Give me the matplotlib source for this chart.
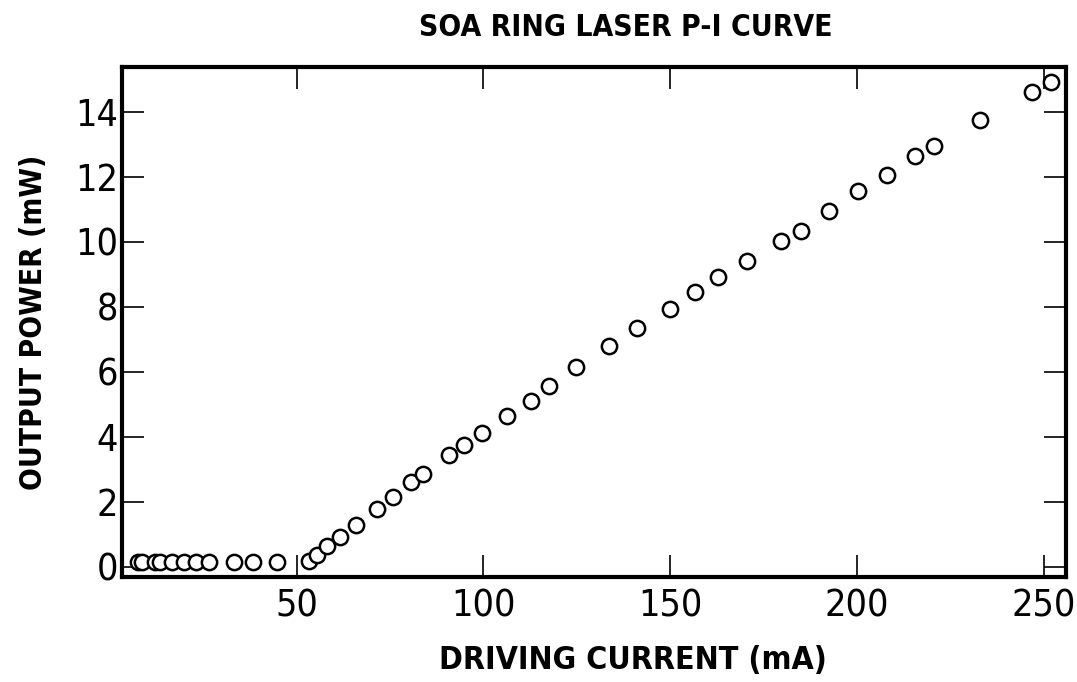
import matplotlib
matplotlib.use("Agg")
import matplotlib.pyplot as plt
from matplotlib import font_manager

# Driving current (mA) and measured output power (mW)
current_ma = [7.5, 8.5, 12.0, 13.5, 16.5, 19.8, 23.0, 26.5, 33.2, 38.2, 44.6,
              53.3, 55.3, 58.0, 61.6, 65.9, 71.4, 75.7, 80.5, 83.9, 90.8,
              94.9, 99.7, 106.4, 112.6, 117.6, 124.8, 133.7, 141.1, 149.9,
              156.6, 162.9, 170.5, 179.7, 185.0, 192.5, 200.3, 208.0, 215.5,
              220.7, 232.9, 246.9, 251.9]
power_mw = [0.15, 0.15, 0.15, 0.15, 0.15, 0.15, 0.15, 0.15, 0.15, 0.15, 0.15,
            0.18, 0.36, 0.62, 0.92, 1.28, 1.77, 2.15, 2.60, 2.85, 3.45,
            3.74, 4.12, 4.65, 5.11, 5.56, 6.14, 6.79, 7.34, 7.94,
            8.45, 8.90, 9.42, 10.03, 10.34, 10.95, 11.57, 12.05, 12.65,
            12.95, 13.75, 14.60, 14.92]

x_ticks = [50, 100, 150, 200, 250]
y_ticks = [0, 2, 4, 6, 8, 10, 12, 14]

title = "SOA RING LASER P-I CURVE"
x_label = "DRIVING CURRENT (mA)"
y_label = "OUTPUT POWER (mW)"

# Prefer a narrow sans face; fall back to condensed DejaVu
names = {f.name for f in font_manager.fontManager.ttflist}
if "Liberation Sans Narrow" in names:
    fam, stretch = "Liberation Sans Narrow", "normal"
else:
    fam, stretch = "DejaVu Sans", "condensed"

fig = plt.figure(figsize=(10.77, 6.82), dpi=100)
ax = fig.add_axes([0.1133, 0.154, 0.8765, 0.7478])

ax.plot(current_ma, power_mw, linestyle="none", marker="o", ms=11,
        mfc="white", mec="black", mew=1.8)

ax.set_xlim(3.2, 256)
ax.set_ylim(-0.32, 15.38)
ax.set_xticks(x_ticks)
ax.set_yticks(y_ticks)

for s in ax.spines.values():
    s.set_linewidth(3.0)

ax.tick_params(direction="in", length=16, width=1.2, top=True, right=True,
               labelsize=27)
ax.tick_params(axis="x", pad=8)
ax.tick_params(axis="y", pad=3)
for lab in ax.get_xticklabels() + ax.get_yticklabels():
    lab.set_family(fam)
    lab.set_stretch(stretch)

ax.set_title(title, fontsize=21.5, fontweight="bold", family=fam,
             stretch=stretch, pad=22, x=0.534)
ax.set_xlabel(x_label, fontsize=23, fontweight="bold", family=fam,
              stretch=stretch, labelpad=15)
ax.xaxis.label.set_x(0.541)
ax.set_ylabel(y_label, fontsize=21.5, fontweight="bold", family=fam,
              stretch=stretch, labelpad=19)

fig.savefig("out.png", dpi=100)
